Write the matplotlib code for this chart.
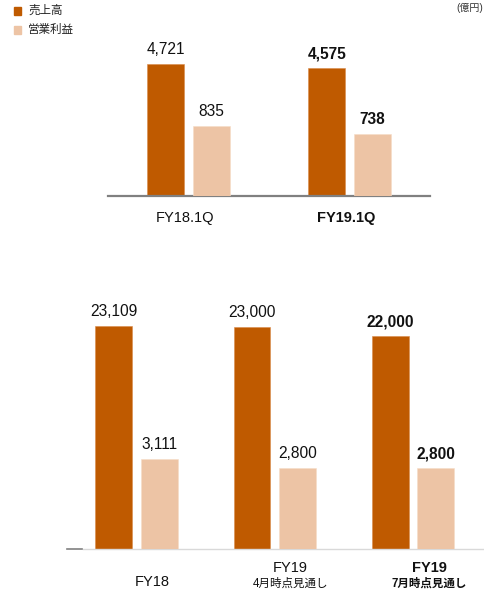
import numpy as np
import matplotlib.pyplot as plt
from matplotlib.patches import Rectangle

plt.rcParams['font.family'] = ['Liberation Sans', 'Noto Sans CJK JP']

# data (億円)
q_labels = ['FY18.1Q', 'FY19.1Q']
q_sales = [4721, 4575]
q_profit = [835, 738]

y_labels = ['FY18', 'FY19', 'FY19']
y_sublabels = ['', '4月時点見通し', '7月時点見通し']
y_sales = [23109, 23000, 22000]
y_profit = [3111, 2800, 2800]

legend_labels = ['売上高', '営業利益']
c_sales = '#BF5A00'
c_profit = '#EDC4A5'

fig = plt.figure(figsize=(4.84, 5.93), dpi=100)


def fmt(v):
    return f'{v:,}'


def draw(ax, ax2, sales, profit, off_s, off_p, width, bold_idx):
    x = np.arange(len(sales))
    b1 = ax.bar(x + off_s, sales, width, color=c_sales, edgecolor='#D98A4A', linewidth=0.4)
    b2 = ax2.bar(x + off_p, profit, width, color=c_profit, edgecolor='#F6DCC8', linewidth=0.4)
    for a, bars, vals in ((ax, b1, sales), (ax2, b2, profit)):
        for i, (r, v) in enumerate(zip(bars, vals)):
            a.annotate(fmt(v), (r.get_x() + r.get_width() / 2, v),
                       xytext=(0, 5), textcoords='offset points',
                       ha='center', va='bottom', fontsize=11.2, color='#111111',
                       fontweight='bold' if i in bold_idx else 'normal')
    for a in (ax, ax2):
        for s in a.spines.values():
            s.set_visible(False)
        a.set_xticks([])
        a.set_yticks([])
        a.patch.set_alpha(0)


# top chart: quarter
ax = fig.add_axes([108 / 484, 1 - 196 / 593, 322 / 484, 156 / 593])
ax2 = ax.twinx()
ax.set_xlim(-0.5, 1.5)
ax.set_ylim(0, 5578)
ax2.set_ylim(0, 1867)
draw(ax, ax2, q_sales, q_profit, -0.142, 0.142, 0.23, [1])
ax.axhline(0, color='#808080', lw=1.6, clip_on=False)
for i, lab in enumerate(q_labels):
    ax.text(i - 0.02, -0.141, lab, transform=ax.get_xaxis_transform(), ha='center', va='center',
            fontsize=10.5, color='#111111', fontweight='bold' if i == 1 else 'normal')

# bottom chart: full year
bx = fig.add_axes([67 / 484, 1 - 549.3 / 593, 417 / 484, 249.3 / 593])
bx2 = bx.twinx()
bx.set_xlim(-0.618, 2.398)
bx.set_ylim(0, 25762)
bx2.set_ylim(0, 8617)
draw(bx, bx2, y_sales, y_profit, -0.28, 0.05, 0.267, [2])
bx.axhline(0, xmin=0.039, xmax=1, color='#D9D9D9', lw=1, clip_on=False)
bx.axhline(0, xmin=0, xmax=0.037, color='#808080', lw=1.2, clip_on=False)
for i, (lab, sub) in enumerate(zip(y_labels, y_sublabels)):
    w = 'bold' if i == 2 else 'normal'
    tr = bx.get_xaxis_transform()
    if sub:
        bx.text(i, -0.075, lab, transform=tr, ha='center', va='center',
                fontsize=10.5, color='#111111', fontweight=w)
        bx.text(i, -0.137, sub, transform=tr, ha='center', va='center',
                fontsize=8.3, color='#111111', fontweight=w)
    else:
        bx.text(i, -0.131, lab, transform=tr, ha='center', va='center',
                fontsize=10.5, color='#111111')

# legend
for k, (lab, c) in enumerate(zip(legend_labels, [c_sales, c_profit])):
    yc = 11 + 19 * k
    fig.add_artist(Rectangle((14 / 484, 1 - (yc + 3.7) / 593), 7 / 484, 7.4 / 593,
                             color=c, transform=fig.transFigure))
    fig.text(28 / 484, 1 - yc / 593, lab, ha='left', va='center', fontsize=8.3, color='#222222')

fig.text(483 / 484, 1 - 7.5 / 593, '(億円)', ha='right', va='center', fontsize=7.2, color='#333333')

fig.savefig('out.png', dpi=100)
